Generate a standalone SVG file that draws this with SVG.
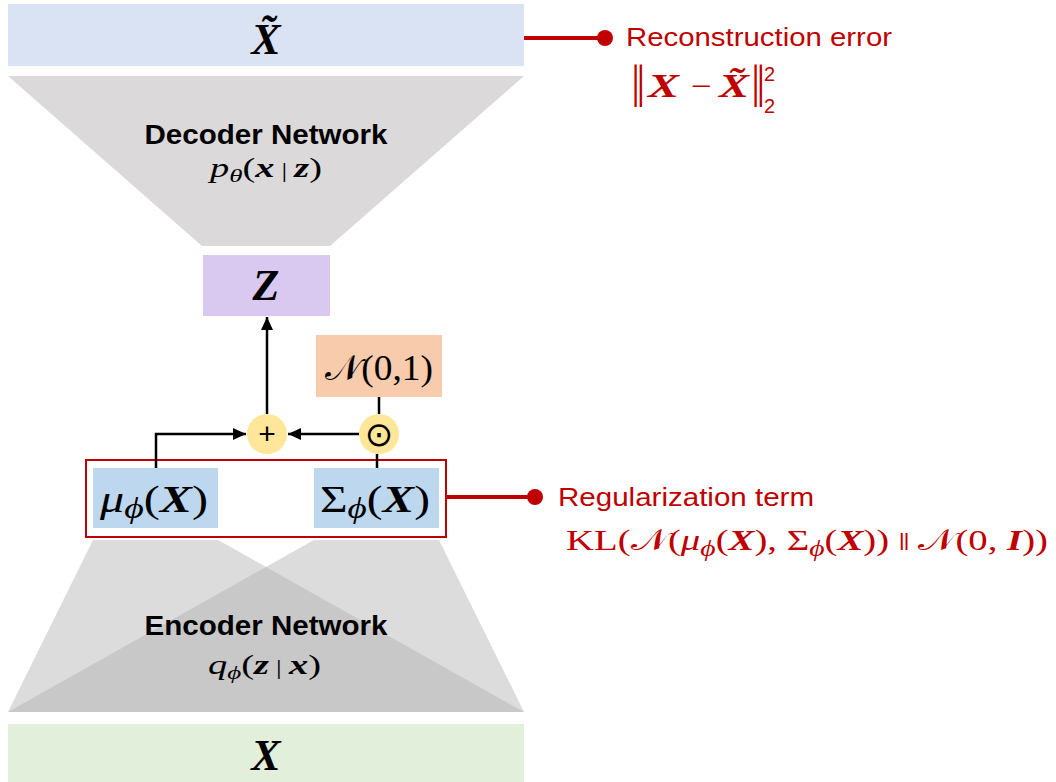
<svg xmlns="http://www.w3.org/2000/svg" width="1056" height="782" viewBox="0 0 1056 782">
  <style>
    .sans { font-family: "Liberation Sans", Arial, sans-serif; }
    .math { font-family: "Liberation Serif", "DejaVu Serif", serif; font-style: italic; }
    .up { font-style: normal; font-weight: normal; }
    .bi { font-weight: bold; font-style: italic; }
    .title { font-size: 27px; font-weight: bold; fill: #000; text-anchor: middle; }
    .red { fill: #c00000; }
    .wire { stroke: #000; stroke-width: 2.5; fill: none; }
    .redline { stroke: #c00000; stroke-width: 4; fill: none; }
    .op { fill: #ffe699; }
  </style>
  <defs>
    <marker id="arrow" markerUnits="userSpaceOnUse" markerWidth="14" markerHeight="14" refX="13" refY="7" orient="auto">
      <path d="M0,1 L13,7 L0,13 Z" fill="#000"/>
    </marker>
  </defs>

  <!-- reconstructed output -->
  <g id="x-tilde">
    <rect x="8" y="4" width="516" height="62" fill="#dae3f3"/>
    <text x="266" y="54" class="math bi" font-size="44" text-anchor="middle">X̃</text>
  </g>

  <!-- decoder -->
  <g id="decoder">
    <polygon points="8,76 524,76 330,246 202,246" fill="#dbd9da"/>
    <text x="266" y="144" class="sans title" textLength="243" lengthAdjust="spacingAndGlyphs">Decoder Network</text>
    <text x="210" y="177" class="math" font-size="27" textLength="112" lengthAdjust="spacingAndGlyphs">p<tspan font-size="19" dy="5">θ</tspan><tspan dy="-5" class="up">(</tspan><tspan class="bi">x</tspan><tspan class="up" font-size="20"> | </tspan><tspan class="bi">z</tspan><tspan class="up">)</tspan></text>
  </g>

  <!-- latent -->
  <g id="z">
    <rect x="203" y="255" width="127" height="61" fill="#d9c9f1"/>
    <text x="266" y="300" class="math bi" font-size="44" text-anchor="middle">Z</text>
  </g>

  <g id="noise">
    <rect x="316" y="335" width="126" height="62" fill="#f8cbad"/>
    <text x="325" y="380" class="math up" font-size="35" textLength="108" lengthAdjust="spacingAndGlyphs">𝒩(0,1)</text>
  </g>

  <g id="add">
    <circle cx="267" cy="434" r="20" class="op"/>
    <text x="267" y="444" class="sans" font-size="30" text-anchor="middle">+</text>
  </g>

  <g id="mult">
    <circle cx="379" cy="434" r="20" class="op"/>
    <text x="379" y="446" font-family="DejaVu Sans, sans-serif" font-size="34" text-anchor="middle">⊙</text>
  </g>

  <!-- encoder outputs -->
  <g id="latent-params">
    <rect x="86" y="460" width="360" height="77" fill="none" stroke="#c00000" stroke-width="2"/>
  </g>

  <g id="mu">
    <rect x="93" y="468" width="125" height="60" fill="#bdd7ee"/>
    <text x="100" y="512" class="math" font-size="37" textLength="108" lengthAdjust="spacingAndGlyphs">μ<tspan font-size="29" dy="6">ϕ</tspan><tspan dy="-6" class="up">(</tspan><tspan class="bi">X</tspan><tspan class="up">)</tspan></text>
  </g>

  <g id="sigma">
    <rect x="314" y="468" width="125" height="60" fill="#bdd7ee"/>
    <text x="320" y="512" class="math" font-size="37" textLength="110" lengthAdjust="spacingAndGlyphs"><tspan class="up">Σ</tspan><tspan font-size="29" dy="6">ϕ</tspan><tspan dy="-6" class="up">(</tspan><tspan class="bi">X</tspan><tspan class="up">)</tspan></text>
  </g>

  <!-- encoder -->
  <g id="encoder">
    <polygon points="93,540 218,540 524,712 8,712" fill="#adadad" fill-opacity="0.43"/>
    <polygon points="314,540 439,540 524,712 8,712" fill="#adadad" fill-opacity="0.43"/>
    <text x="266" y="635" class="sans title" textLength="243" lengthAdjust="spacingAndGlyphs">Encoder Network</text>
    <text x="208" y="674" class="math" font-size="27" textLength="113" lengthAdjust="spacingAndGlyphs">q<tspan font-size="19" dy="5">ϕ</tspan><tspan dy="-5" class="up">(</tspan><tspan class="bi">z</tspan><tspan class="up" font-size="20"> | </tspan><tspan class="bi">x</tspan><tspan class="up">)</tspan></text>
  </g>

  <!-- input -->
  <g id="x">
    <rect x="8" y="724" width="516" height="58" fill="#e2efda"/>
    <text x="266" y="770" class="math bi" font-size="44" text-anchor="middle">X</text>
  </g>

  <!-- connectors -->
  <g id="connectors">
    <path d="M156,468 V434 H246" class="wire" marker-end="url(#arrow)"/>
    <path d="M359,434 H288" class="wire" marker-end="url(#arrow)"/>
    <path d="M267,414 V317" class="wire" marker-end="url(#arrow)"/>
    <path d="M379,397 V414" class="wire"/>
    <path d="M377,468 V454" class="wire"/>
    <path d="M524,38 H605" class="redline"/>
    <circle cx="605" cy="38" r="8" fill="#c00000"/>
    <path d="M446,497 H535" class="redline"/>
    <circle cx="535" cy="497" r="8" fill="#c00000"/>
  </g>

  <!-- loss annotations -->
  <g id="reconstruction-loss">
    <text x="626" y="46" class="sans red" font-size="26" textLength="266" lengthAdjust="spacingAndGlyphs">Reconstruction error</text>
    <text x="631" y="97" class="math up red" font-size="46" letter-spacing="-4">||</text>
    <text x="648" y="97" class="math bi red" font-size="34" textLength="31" lengthAdjust="spacingAndGlyphs">X</text>
    <text x="691" y="96" class="math up red" font-size="30" textLength="21" lengthAdjust="spacingAndGlyphs">−</text>
    <text x="719" y="97" class="math bi red" font-size="34" textLength="30" lengthAdjust="spacingAndGlyphs">X̃</text>
    <text x="751" y="97" class="math up red" font-size="46" letter-spacing="-4">||</text>
    <text x="764" y="81" class="sans red" font-size="20">2</text>
    <text x="764" y="113" class="sans red" font-size="20">2</text>
  </g>

  <g id="kl-loss">
    <text x="558" y="506" class="sans red" font-size="26" textLength="256" lengthAdjust="spacingAndGlyphs">Regularization term</text>
    <text x="566" y="550" class="math up red" font-size="30" textLength="482" lengthAdjust="spacingAndGlyphs">KL(𝒩(<tspan class="math">μ</tspan><tspan class="math" font-size="23" dy="6">ϕ</tspan><tspan dy="-6">(</tspan><tspan class="bi">X</tspan>), Σ<tspan class="math" font-size="23" dy="6">ϕ</tspan><tspan dy="-6">(</tspan><tspan class="bi">X</tspan>)) <tspan class="sans" font-size="18" dy="-4" letter-spacing="-1">||</tspan><tspan dy="4"> 𝒩(0, </tspan><tspan class="bi">I</tspan>))</text>
  </g>
</svg>
